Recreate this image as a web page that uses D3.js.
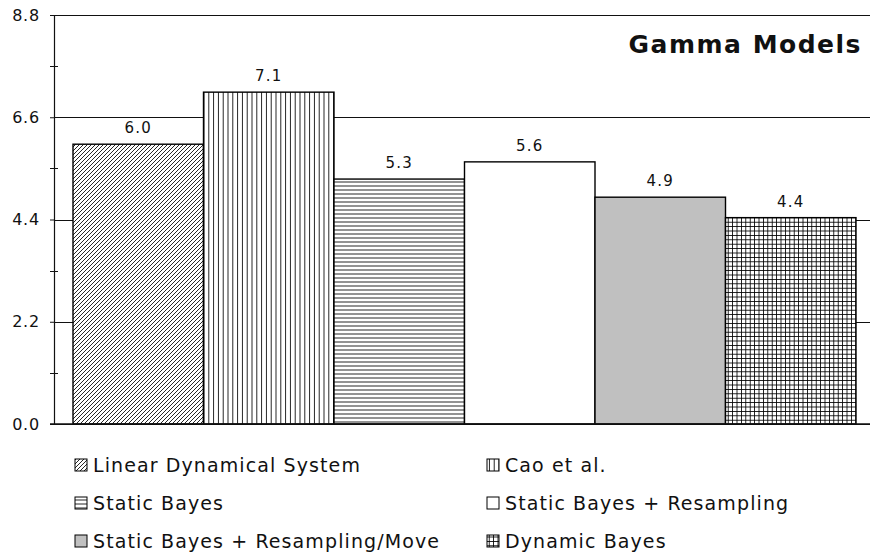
<!DOCTYPE html>
<html>
<head>
<meta charset="utf-8">
<script src="https://cdn.jsdelivr.net/npm/d3@7"></script>
<style>
  body { margin: 0; background: #fff; }
  text { font-family: "DejaVu Sans", Verdana, sans-serif; fill: #111; }
</style>
</head>
<body>
<div id="chart"></div>
<script>
// data
var methods = ["Linear Dynamical System", "Cao et al.", "Static Bayes",
               "Static Bayes + Resampling", "Static Bayes + Resampling/Move", "Dynamic Bayes"];
var errors = [6.02, 7.14, 5.27, 5.64, 4.88, 4.44];
var yTicks = [0, 2.2, 4.4, 6.6, 8.8];
var yMinorTicks = [1.1, 3.3, 5.5, 7.7];
var fills = ["url(#diag)", "url(#vert)", "url(#horiz)", "#ffffff", "#c0c0c0", "url(#grid)"];

var W = 870, H = 554;
var svg = d3.select("#chart").append("svg")
    .attr("width", W)
    .attr("height", H);

// hatch patterns
var defs = svg.append("defs");
function pattern(id, size, lines) {
  var p = defs.append("pattern")
    .attr("id", id)
    .attr("patternUnits", "userSpaceOnUse")
    .attr("width", size)
    .attr("height", size);
  p.append("rect").attr("width", size).attr("height", size).attr("fill", "#fff");
  lines.forEach(function(d) {
    p.append("path").attr("d", d).attr("stroke", "#000").attr("stroke-width", 0.85).attr("fill", "none");
  });
}
pattern("diag", 4, ["M-1,1 L1,-1 M0,4 L4,0 M3,5 L5,3"]);
pattern("vert", 4.8, ["M2.4,0 L2.4,4.8"]);
pattern("horiz", 4, ["M0,2 L4,2"]);
pattern("grid", 4.4, ["M2.2,0 L2.2,4.4 M0,2.2 L4.4,2.2"]);

var x = d3.scaleBand()
  .domain(methods)
  .range([73, 856])
  .padding(0);

var y = d3.scaleLinear()
  .domain([0, 8.8])
  .range([424, 15]);

// gridlines
svg.append("g")
  .selectAll("line")
  .data(yTicks)
  .enter()
  .append("line")
    .attr("x1", 54)
    .attr("x2", W)
    .attr("y1", function(d) { return Math.round(y(d)) + 0.5 })
    .attr("y2", function(d) { return Math.round(y(d)) + 0.5 })
    .attr("stroke", "#111")
    .attr("stroke-width", 1.2);

// bars
svg.append("g")
  .selectAll("rect")
  .data(methods)
  .enter()
  .append("rect")
    .attr("x", function(d) { return x(d) })
    .attr("y", function(d, i) { return y(errors[i]) })
    .attr("width", x.bandwidth())
    .attr("height", function(d, i) { return y(0) - y(errors[i]) })
    .attr("fill", function(d, i) { return fills[i] })
    .attr("stroke", "#000")
    .attr("stroke-width", 1.4);

// value labels
svg.append("g")
  .selectAll("text")
  .data(methods)
  .enter()
  .append("text")
    .attr("x", function(d) { return x(d) + x.bandwidth() / 2 })
    .attr("y", function(d, i) { return y(errors[i]) - 11 })
    .attr("text-anchor", "middle")
    .style("font-size", "15px")
    .style("letter-spacing", "1.2px")
    .attr("fill", "#222")
    .text(function(d, i) { return errors[i].toFixed(1) });

// y axis
var yAxis = svg.append("g")
  .attr("transform", "translate(54,0)")
  .call(d3.axisLeft(y).tickValues(yTicks).tickFormat(d3.format(".1f")).tickSize(4).tickPadding(10));
yAxis.select(".domain").attr("stroke", "#111").attr("stroke-width", 1.2);
yAxis.selectAll(".tick line").attr("stroke", "#111");
yAxis.selectAll(".tick text")
  .style("font-size", "16px")
  .style("letter-spacing", "0.8px")
  .style("font-family", "DejaVu Sans, Verdana, sans-serif")
  .attr("fill", "#222");

// minor ticks cross the axis
svg.append("g")
  .selectAll("line")
  .data(yMinorTicks)
  .enter()
  .append("line")
    .attr("x1", 50)
    .attr("x2", 58)
    .attr("y1", function(d) { return Math.round(y(d)) + 0.5 })
    .attr("y2", function(d) { return Math.round(y(d)) + 0.5 })
    .attr("stroke", "#111");

// baseline
svg.append("line")
  .attr("x1", 50).attr("x2", W)
  .attr("y1", y(0)).attr("y2", y(0))
  .attr("stroke", "#111")
  .attr("stroke-width", 1.5);

// title
svg.append("text")
  .attr("x", 862)
  .attr("y", 53)
  .attr("text-anchor", "end")
  .style("font-size", "25px")
  .style("letter-spacing", "1.5px")
  .style("font-weight", "bold")
  .text("Gamma Models");

// legend
var legend = svg.append("g")
  .selectAll("g")
  .data(methods)
  .enter()
  .append("g")
    .attr("transform", function(d, i) {
      return "translate(" + (i % 2 === 0 ? 75 : 487) + "," + (472 + Math.floor(i / 2) * 38) + ")";
    });
legend.append("rect")
  .attr("x", 0)
  .attr("y", -13)
  .attr("width", 12)
  .attr("height", 12)
  .attr("fill", function(d, i) { return fills[i] })
  .attr("stroke", "#000")
  .attr("stroke-width", 1);
legend.append("text")
  .attr("x", 18)
  .attr("y", 0)
  .style("font-size", "19px")
  .style("letter-spacing", "1.1px")
  .attr("fill", "#222")
  .text(function(d) { return d });
</script>
</body>
</html>
